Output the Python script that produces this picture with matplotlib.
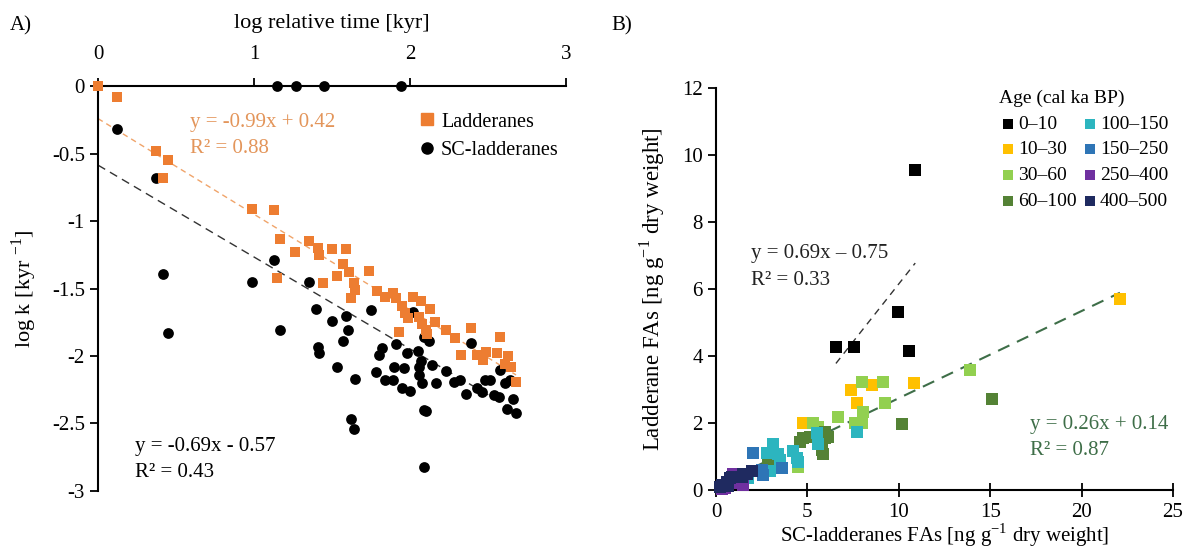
import matplotlib
matplotlib.use("Agg")
import matplotlib.pyplot as plt
from matplotlib.lines import Line2D
import numpy as np

plt.rcParams['font.family'] = ['Liberation Serif', 'DejaVu Serif']
plt.rcParams['mathtext.fontset'] = 'custom'
plt.rcParams['mathtext.rm'] = 'Liberation Serif'
plt.rcParams['font.size'] = 15

# ---- panel A data: log relative time vs log k ----
lad_x = [0.00, 0.12, 0.37, 0.45, 0.42, 0.99, 1.13, 1.17, 1.26, 1.35, 1.41, 1.42, 1.50,
         1.57, 1.59, 1.61, 1.15, 1.44, 1.53, 1.64, 1.65, 1.62, 1.74, 1.79, 1.84, 1.89,
         1.91, 2.02, 2.07, 1.95, 1.97, 2.13, 1.99, 2.06, 2.08, 2.16, 2.10, 2.11, 1.93,
         2.23, 2.29, 2.39, 2.33, 2.43, 2.47, 2.49, 2.56, 2.58, 2.63, 2.61, 2.65, 2.68]
lad_y = [0.00, -0.08, -0.48, -0.55, -0.68, -0.91, -0.92, -1.13, -1.23, -1.15, -1.20, -1.25, -1.21,
         -1.32, -1.21, -1.38, -1.42, -1.46, -1.41, -1.46, -1.51, -1.57, -1.37, -1.52, -1.56, -1.53,
         -1.57, -1.56, -1.59, -1.63, -1.68, -1.65, -1.72, -1.71, -1.76, -1.75, -1.81, -1.84, -1.82,
         -1.81, -1.87, -1.79, -1.99, -1.99, -2.03, -1.97, -1.98, -1.86, -2.00, -2.06, -2.08, -2.19]

sc_x = [1.15, 1.27, 1.45, 1.945, 0.12, 0.37, 1.13, 0.42, 0.45, 0.99, 1.17, 1.35, 1.40, 1.50,
        1.41, 1.42, 1.53, 1.59, 1.60, 1.57, 1.65, 1.75, 1.78, 1.80, 1.82, 1.84, 1.89, 1.91,
        1.90, 1.96, 1.98, 1.95, 2.00, 2.05, 2.07, 2.06, 2.06, 2.08, 2.02, 2.09, 2.12, 2.14,
        2.17, 2.23, 2.28, 2.32, 2.36, 2.39, 2.43, 2.46, 2.48, 2.51, 2.54, 2.57, 2.58, 2.61,
        2.64, 2.66, 2.62, 2.68, 2.09, 2.10, 1.62, 1.64, 2.09]
sc_y = [0.00, 0.00, 0.00, 0.00, -0.32, -0.68, -1.29, -1.39, -1.83, -1.45, -1.81, -1.45, -1.65, -1.74,
        -1.93, -1.98, -2.08, -1.70, -1.81, -1.89, -2.17, -1.66, -2.12, -1.99, -1.94, -2.18, -2.18, -1.91,
        -2.08, -2.09, -1.98, -2.24, -2.26, -1.96, -2.04, -2.08, -2.14, -2.20, -1.67, -1.86, -1.89, -2.07,
        -2.20, -2.11, -2.19, -2.18, -2.28, -1.90, -2.24, -2.27, -2.18, -2.18, -2.29, -2.30, -2.10, -2.20,
        -2.18, -2.32, -2.39, -2.42, -2.40, -2.41, -2.47, -2.54, -2.82]

# trend lines as drawn (endpoints)
lad_trend_x = [0.0, 2.68]
lad_trend_y = [-0.24, -2.14]
sc_trend_x = [0.0, 2.68]
sc_trend_y = [-0.585, -2.41]

# ---- panel B data: SC-ladderane FAs vs ladderane FAs, by age class ----
age_labels = ['0–10', '10–30', '30–60', '60–100', '100–150', '150–250', '250–400', '400–500']
age_colors = ['#000000', '#FFC000', '#92D050', '#548235', '#2CB5BF', '#2E75B6', '#7030A0', '#1F2A60']
sc_fa = [
    [10.9, 9.96, 6.56, 7.54, 10.55],
    [7.41, 8.56, 10.82, 7.69, 4.74, 22.1],
    [7.96, 9.11, 8.02, 9.23, 6.68, 7.60, 7.96, 5.32, 5.59, 4.50, 13.9],
    [10.15, 5.96, 6.14, 5.96, 5.14, 4.59, 4.77, 5.78, 5.87, 2.86, 3.50, 15.1],
    [7.72, 5.50, 5.59, 4.23, 4.41, 4.50, 3.13, 2.77, 3.40, 3.50, 2.95, 1.77],
    [3.59, 2.04, 2.50, 2.59],
    [0.95, 1.22, 1.49, 0.31, 0.49],
    [1.95, 1.68, 1.40, 1.49, 0.77, 0.58, 0.31, 0.67, 0.86, 0.20],
]
lad_fa = [
    [9.55, 5.32, 4.26, 4.28, 4.16],
    [2.99, 3.13, 3.20, 2.59, 2.01, 5.70],
    [3.23, 3.23, 2.32, 2.59, 2.17, 1.99, 2.01, 2.01, 1.89, 0.68, 3.58],
    [1.97, 1.74, 1.59, 1.54, 1.57, 1.44, 1.54, 1.19, 1.07, 0.85, 0.72, 2.72],
    [1.72, 1.69, 1.37, 1.17, 0.95, 0.85, 1.37, 1.10, 1.07, 0.90, 0.58, 0.35],
    [0.65, 1.10, 0.60, 0.45],
    [0.47, 0.20, 0.15, 0.02, 0.05],
    [0.58, 0.47, 0.40, 0.48, 0.35, 0.25, 0.15, 0.12, 0.40, 0.10],
]
# Excel-style linear fits (coefficients from the figure labels)
young_fit = (0.69, -0.75)
old_fit = (0.26, 0.14)

fig = plt.figure(figsize=(11.92, 5.56), dpi=100)

# ================= panel A =================
axA = fig.add_axes([0.0822, 0.117, 0.3926, 0.728])
axA.plot(sc_trend_x, sc_trend_y, ls=(0, (6, 4)), color='#333333', lw=1.0, zorder=1)
axA.plot(lad_trend_x, lad_trend_y, ls=(0, (4, 3)), color='#F0A46A', lw=1.0, zorder=1)
axA.scatter(sc_x, sc_y, s=60, marker='o', color='black', clip_on=False, zorder=3, linewidths=0)
axA.scatter(lad_x, lad_y, s=62, marker='s', color='#ED7D31', clip_on=False, zorder=4, linewidths=0)

axA.set_xlim(0, 3)
axA.set_ylim(-3, 0)
axA.spines['right'].set_visible(False)
axA.spines['bottom'].set_visible(False)
axA.spines['top'].set_linewidth(1.5)
axA.spines['left'].set_linewidth(1.5)
axA.xaxis.tick_top()
axA.xaxis.set_label_position('top')
axA.set_xticks([0, 1, 2, 3])
axA.set_xticklabels(['0', '1', '2', '3'])
axA.set_yticks([0, -0.5, -1, -1.5, -2, -2.5, -3])
axA.set_yticklabels(['0', '-0.5', '-1', '-1.5', '-2', '-2.5', '-3'])
axA.tick_params(axis='both', direction='out', length=6, width=1.3, labelsize=15)
axA.tick_params(axis='x', pad=10)
axA.set_xlabel('log relative time [kyr]', fontsize=16, labelpad=12)
axA.set_ylabel(r'log k [kyr $^{\mathregular{-1}}$]', fontsize=16, labelpad=9)

axA.text(0.59, -0.27, 'y = -0.99x + 0.42', color='#E3955A', fontsize=15, va='center')
axA.text(0.59, -0.46, 'R² = 0.88', color='#E3955A', fontsize=15, va='center')
axA.text(0.24, -2.67, 'y = -0.69x - 0.57', color='black', fontsize=15, va='center')
axA.text(0.24, -2.86, 'R² = 0.43', color='black', fontsize=15, va='center')

handlesA = [
    Line2D([], [], marker='s', ls='', color='#ED7D31', markersize=8, label='Ladderanes'),
    Line2D([], [], marker='o', ls='', color='black', markersize=8, label='SC-ladderanes'),
]
axA.legend(handles=handlesA, loc='upper left', bbox_to_anchor=(0.66, 0.955), frameon=False,
           fontsize=14.5, handletextpad=0.1, handlelength=1.2, borderaxespad=0, labelspacing=0.45)

fig.text(0.008, 0.945, 'A)', fontsize=15)

# ================= panel B =================
axB = fig.add_axes([0.6007, 0.1187, 0.3833, 0.7233])
all_x = [v for grp in sc_fa[1:] for v in grp]
yx = np.array([min(sc_fa[0]), max(sc_fa[0])])
ox = np.array([0.0, max(all_x)])
axB.plot(yx, young_fit[0] * yx + young_fit[1], ls=(0, (5, 4)), color='#333333', lw=1.0, zorder=1)
axB.plot(ox, old_fit[0] * ox + old_fit[1], ls=(0, (6, 4)), color='#3E6E48', lw=1.5, zorder=1)
for lbl, col, xs, ys in zip(age_labels, age_colors, sc_fa, lad_fa):
    axB.scatter(xs, ys, s=70, marker='s', color=col, linewidths=0, clip_on=False, zorder=3, label=lbl)

axB.set_xlim(0, 25)
axB.set_ylim(0, 12)
axB.spines['right'].set_visible(False)
axB.spines['top'].set_visible(False)
axB.spines['bottom'].set_linewidth(1.5)
axB.spines['left'].set_linewidth(1.5)
axB.set_xticks([0, 5, 10, 15, 20, 25])
axB.set_yticks([0, 2, 4, 6, 8, 10, 12])
axB.tick_params(axis='x', direction='inout', length=10, width=1.3, labelsize=15, pad=4)
axB.tick_params(axis='y', direction='out', length=6, width=1.3, labelsize=15)
axB.set_xlabel(r'SC-ladderanes FAs [ng g$^{\mathregular{-1}}$ dry weight]', fontsize=15, labelpad=0)
axB.set_ylabel(r'Ladderane FAs [ng g$^{\mathregular{-1}}$ dry weight]', fontsize=16.5, labelpad=11)

axB.text(1.9, 7.05, 'y = 0.69x – 0.75', color='#222222', fontsize=15, va='center')
axB.text(1.9, 6.25, 'R² = 0.33', color='#222222', fontsize=15, va='center')
axB.text(17.2, 1.94, 'y = 0.26x + 0.14', color='#3E6E48', fontsize=15, va='center')
axB.text(17.2, 1.19, 'R² = 0.87', color='#3E6E48', fontsize=15, va='center')

axB.legend(loc='upper left', bbox_to_anchor=(0.603, 1.015), ncol=2, frameon=False,
           title='Age (cal ka BP)', title_fontsize=14, fontsize=14, markerscale=0.78,
           handletextpad=0.05, columnspacing=0.25, labelspacing=0.42, borderaxespad=0,
           handlelength=0.9, alignment='left')

fig.text(0.513, 0.945, 'B)', fontsize=15)

fig.savefig('out.png', dpi=100)
